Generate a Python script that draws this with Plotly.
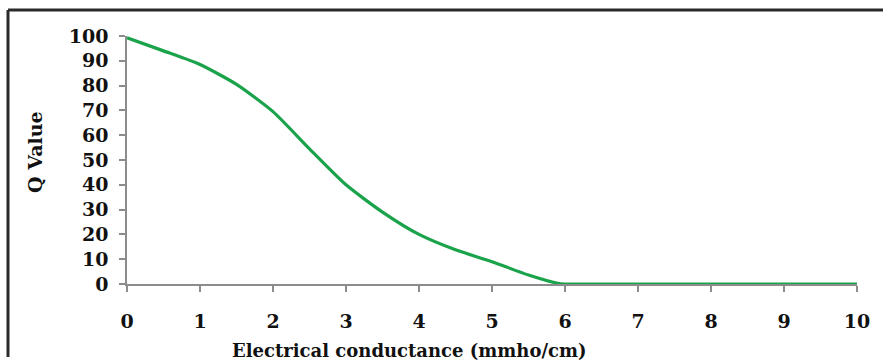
import plotly.graph_objects as go

conductance = [0, 0.5, 1, 1.5, 2, 2.5, 3, 3.5, 4, 4.5, 5, 5.5, 5.9, 6, 7, 8, 9, 10]
q_value = [99.3, 94, 88.5, 80.5, 69.5, 54.5, 40, 29, 20, 13.8, 9, 3.6, 0.3, 0, 0, 0, 0, 0]
x_ticks = list(range(0, 11))
y_ticks = list(range(0, 101, 10))

W, H = 883, 362
L, R, T, B = 127, 26, 36, 78
pw, ph = W - L - R, H - T - B

def px(xp):
    return (xp - L) / pw

def py(yp):
    return (H - B - yp) / ph

fig = go.Figure()
fig.add_trace(go.Scatter(
    x=conductance, y=q_value, mode="lines",
    line=dict(color="#1aa34a", width=3.2, shape="spline", smoothing=0.6),
    cliponaxis=False, showlegend=False,
))

font_serif = "DejaVu Serif, Liberation Serif, serif"
axis_common = dict(
    showgrid=False, zeroline=False, showline=True, linecolor="#8c8c8c", linewidth=1.5,
    ticks="outside", ticklen=6, tickcolor="#8c8c8c", tickwidth=1.5,
    tickfont=dict(family=font_serif, size=19, color="#111"),
)
fig.update_xaxes(range=[0, 10], tickvals=x_ticks, ticktext=[f"<b>{v}</b>" for v in x_ticks],
                 ticklabelstandoff=13, **axis_common)
fig.update_yaxes(range=[0, 100], tickvals=y_ticks, ticktext=[f"<b>{v}</b>" for v in y_ticks],
                 ticklabelstandoff=7, **axis_common)

fig.add_annotation(text="<b>Electrical conductance (mmho/cm)</b>", xref="paper", yref="paper",
                   x=px(409), y=py(350), xanchor="center", yanchor="middle", showarrow=False,
                   font=dict(family=font_serif, size=18, color="#111"))
fig.add_annotation(text="<b>Q Value</b>", xref="paper", yref="paper", textangle=-90,
                   x=px(35), y=py(152), xanchor="center", yanchor="middle", showarrow=False,
                   font=dict(family=font_serif, size=19, color="#111"))

border = dict(color="#2a2a2a", width=3)
fig.add_shape(type="line", xref="paper", yref="paper", x0=px(8), x1=px(883), y0=py(10), y1=py(10), line=border)
fig.add_shape(type="line", xref="paper", yref="paper", x0=px(8), x1=px(8), y0=py(10), y1=py(357), line=border)

fig.update_layout(
    width=W, height=H, margin=dict(l=L, r=R, t=T, b=B),
    paper_bgcolor="white", plot_bgcolor="white",
)
fig.write_html("out.html")
